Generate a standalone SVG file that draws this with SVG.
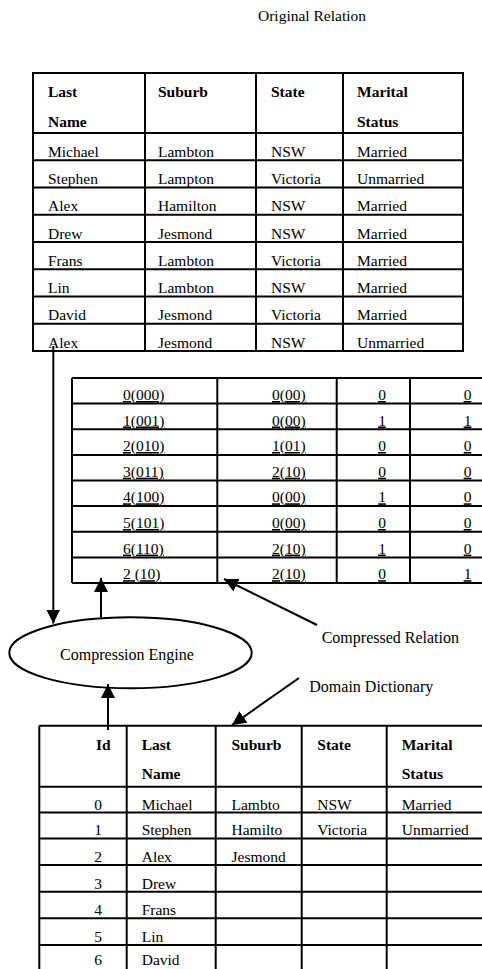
<svg xmlns="http://www.w3.org/2000/svg" width="482" height="969" viewBox="0 0 482 969">
<defs>
<style>
text{font-family:"Liberation Serif","Times New Roman",serif;font-size:15.5px;fill:#000}
.b{font-weight:bold}
.u{text-decoration:underline}
.m{text-anchor:middle}
.lbl{font-size:16px}
.g line,.g rect{stroke:#000;stroke-width:2;fill:none}
.c line{stroke:#000;stroke-width:2}
</style>
<marker id="ah" markerUnits="userSpaceOnUse" markerWidth="16" markerHeight="16" refX="14" refY="7" orient="auto">
<path d="M0,0 L14,7 L0,14 z" fill="#000"/>
</marker>
</defs>
<rect width="482" height="969" fill="#fff"/>
<text x="258" y="21">Original Relation</text>

<g id="original-relation" class="g">
<rect x="33" y="73" width="430" height="278"/>
<line x1="145" y1="73" x2="145" y2="351"/>
<line x1="256" y1="73" x2="256" y2="351"/>
<line x1="343" y1="73" x2="343" y2="351"/>
<line x1="33" y1="133" x2="463" y2="133"/>
<line x1="33" y1="160.25" x2="463" y2="160.25"/>
<line x1="33" y1="187.5" x2="463" y2="187.5"/>
<line x1="33" y1="214.75" x2="463" y2="214.75"/>
<line x1="33" y1="242" x2="463" y2="242"/>
<line x1="33" y1="269.25" x2="463" y2="269.25"/>
<line x1="33" y1="296.5" x2="463" y2="296.5"/>
<line x1="33" y1="323.75" x2="463" y2="323.75"/>
<text class="b" x="48" y="97">Last</text><text class="b" x="48" y="127">Name</text>
<text class="b" x="158" y="97">Suburb</text>
<text class="b" x="271" y="97">State</text>
<text class="b" x="357" y="97">Marital</text><text class="b" x="357" y="127">Status</text>
<text x="48" y="157">Michael</text><text x="158" y="157">Lambton</text><text x="271" y="157">NSW</text><text x="357" y="157">Married</text>
<text x="48" y="184">Stephen</text><text x="158" y="184">Lampton</text><text x="271" y="184">Victoria</text><text x="357" y="184">Unmarried</text>
<text x="48" y="211">Alex</text><text x="158" y="211">Hamilton</text><text x="271" y="211">NSW</text><text x="357" y="211">Married</text>
<text x="48" y="238.5">Drew</text><text x="158" y="238.5">Jesmond</text><text x="271" y="238.5">NSW</text><text x="357" y="238.5">Married</text>
<text x="48" y="265.75">Frans</text><text x="158" y="265.75">Lambton</text><text x="271" y="265.75">Victoria</text><text x="357" y="265.75">Married</text>
<text x="48" y="293">Lin</text><text x="158" y="293">Lambton</text><text x="271" y="293">NSW</text><text x="357" y="293">Married</text>
<text x="48" y="320.25">David</text><text x="158" y="320.25">Jesmond</text><text x="271" y="320.25">Victoria</text><text x="357" y="320.25">Married</text>
<text x="48" y="347.5">Alex</text><text x="158" y="347.5">Jesmond</text><text x="271" y="347.5">NSW</text><text x="357" y="347.5">Unmarried</text>
</g>

<g id="compressed-relation" class="g">
<line x1="72" y1="378" x2="490" y2="378"/>
<line x1="72" y1="583" x2="490" y2="583"/>
<line x1="72" y1="378" x2="72" y2="583"/>
<line x1="217.3" y1="378" x2="217.3" y2="583"/>
<line x1="336.7" y1="378" x2="336.7" y2="583"/>
<line x1="410" y1="378" x2="410" y2="583"/>
<line x1="72" y1="403.6" x2="490" y2="403.6"/>
<line x1="72" y1="429.3" x2="490" y2="429.3"/>
<line x1="72" y1="454.9" x2="490" y2="454.9"/>
<line x1="72" y1="480.5" x2="490" y2="480.5"/>
<line x1="72" y1="506.1" x2="490" y2="506.1"/>
<line x1="72" y1="531.8" x2="490" y2="531.8"/>
<line x1="72" y1="557.4" x2="490" y2="557.4"/>
<g class="u">
<text x="123" y="400">0(000)</text><text x="272" y="400">0(00)</text><text class="m" x="382" y="400">0</text><text class="m" x="467.5" y="400">0</text>
<text x="123" y="425.5">1(001)</text><text x="272" y="425.5">0(00)</text><text class="m" x="382" y="425.5">1</text><text class="m" x="467.5" y="425.5">1</text>
<text x="123" y="451">2(010)</text><text x="272" y="451">1(01)</text><text class="m" x="382" y="451">0</text><text class="m" x="467.5" y="451">0</text>
<text x="123" y="476.7">3(011)</text><text x="272" y="476.7">2(10)</text><text class="m" x="382" y="476.7">0</text><text class="m" x="467.5" y="476.7">0</text>
<text x="123" y="502.3">4(100)</text><text x="272" y="502.3">0(00)</text><text class="m" x="382" y="502.3">1</text><text class="m" x="467.5" y="502.3">0</text>
<text x="123" y="528">5(101)</text><text x="272" y="528">0(00)</text><text class="m" x="382" y="528">0</text><text class="m" x="467.5" y="528">0</text>
<text x="123" y="553.6">6(110)</text><text x="272" y="553.6">2(10)</text><text class="m" x="382" y="553.6">1</text><text class="m" x="467.5" y="553.6">0</text>
<text x="123" y="579.2">2 (10)</text><text x="272" y="579.2">2(10)</text><text class="m" x="382" y="579.2">0</text><text class="m" x="467.5" y="579.2">1</text>
</g>
</g>

<g id="compression-engine">
<ellipse cx="130.5" cy="652.8" rx="121.2" ry="35.5" fill="#fff" stroke="#000" stroke-width="2"/>
<text class="m lbl" x="127" y="660">Compression Engine</text>
</g>

<g id="labels">
<text class="lbl" x="321.7" y="643.3">Compressed Relation</text>
<text class="lbl" x="309.3" y="691.7">Domain Dictionary</text>
</g>

<g id="domain-dictionary" class="g">
<line x1="39.3" y1="725.7" x2="490" y2="725.7"/>
<line x1="39.3" y1="725.7" x2="39.3" y2="975"/>
<line x1="126.7" y1="725.7" x2="126.7" y2="975"/>
<line x1="215.7" y1="725.7" x2="215.7" y2="975"/>
<line x1="301.7" y1="725.7" x2="301.7" y2="975"/>
<line x1="386.7" y1="725.7" x2="386.7" y2="975"/>
<line x1="39.3" y1="786.7" x2="490" y2="786.7"/>
<line x1="39.3" y1="812.5" x2="490" y2="812.5"/>
<line x1="39.3" y1="838.5" x2="490" y2="838.5"/>
<line x1="39.3" y1="865" x2="490" y2="865"/>
<line x1="39.3" y1="891.7" x2="490" y2="891.7"/>
<line x1="39.3" y1="918.3" x2="490" y2="918.3"/>
<line x1="39.3" y1="945" x2="490" y2="945"/>
<text class="b" x="96" y="750">Id</text>
<text class="b" x="141.7" y="750">Last</text><text class="b" x="141.7" y="779.3">Name</text>
<text class="b" x="231.5" y="750">Suburb</text>
<text class="b" x="317.3" y="750">State</text>
<text class="b" x="401.7" y="750">Marital</text><text class="b" x="401.7" y="779.3">Status</text>
<text class="m" x="98" y="809.5">0</text><text x="141.7" y="809.5">Michael</text><text x="231.5" y="809.5">Lambto</text><text x="317.3" y="809.5">NSW</text><text x="401.7" y="809.5">Married</text>
<text class="m" x="98" y="835.3">1</text><text x="141.7" y="835.3">Stephen</text><text x="231.5" y="835.3">Hamilto</text><text x="317.3" y="835.3">Victoria</text><text x="401.7" y="835.3">Unmarried</text>
<text class="m" x="98" y="861.8">2</text><text x="141.7" y="861.8">Alex</text><text x="231.5" y="861.8">Jesmond</text>
<text class="m" x="98" y="888.5">3</text><text x="141.7" y="888.5">Drew</text>
<text class="m" x="98" y="915.2">4</text><text x="141.7" y="915.2">Frans</text>
<text class="m" x="98" y="941.8">5</text><text x="141.7" y="941.8">Lin</text>
<text class="m" x="98" y="965">6</text><text x="141.7" y="965">David</text>
</g>

<g id="connectors" class="c">
<line x1="53.3" y1="346" x2="53.3" y2="623.5" marker-end="url(#ah)"/>
<line x1="101" y1="617.5" x2="101" y2="578" marker-end="url(#ah)"/>
<line x1="108" y1="730" x2="108" y2="684" marker-end="url(#ah)"/>
<line x1="317" y1="625" x2="224" y2="579" marker-end="url(#ah)"/>
<line x1="299" y1="678" x2="232" y2="725" marker-end="url(#ah)"/>
</g>
</svg>
